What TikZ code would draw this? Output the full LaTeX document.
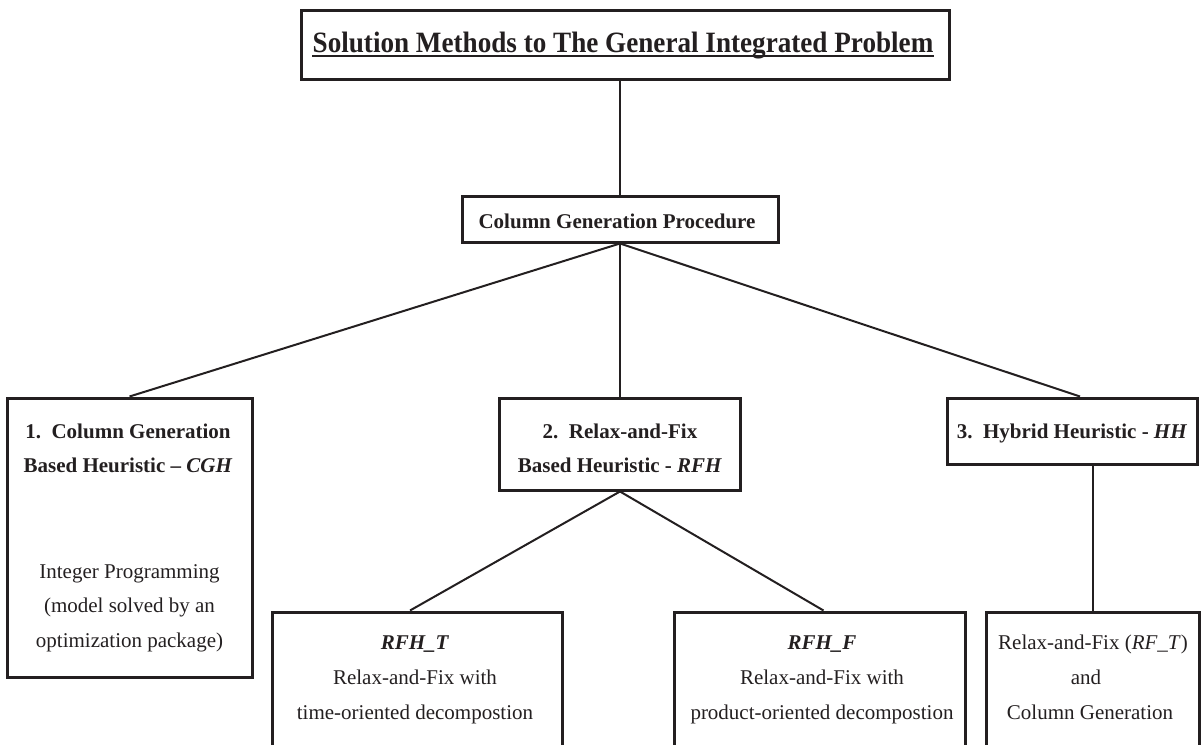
\documentclass[tikz,border=0pt]{standalone}
\usepackage{fontspec}
\setmainfont{Liberation Serif}
\newfontfamily\condfont[FakeStretch=0.92]{Liberation Serif}
\usetikzlibrary{calc}
\definecolor{ink}{HTML}{231F20}
\begin{document}
\begin{tikzpicture}[x=1pt,y=-1pt,
  box/.style={draw=ink,line width=3pt,inner sep=0pt,rectangle},
  txt/.style={anchor=base,inner sep=0pt,text=ink,font=\fontsize{21}{25}\selectfont},
  btxt/.style={txt,font=\fontsize{21}{25}\selectfont\bfseries},
  link/.style={draw=ink,line width=2pt}]
\useasboundingbox (0,0) rectangle (1201,744);
\clip (0,0) rectangle (1201,744);
% boxes
\node[box,minimum width=648pt,minimum height=69pt] (title) at (625,44.5) {};
\node[box,minimum width=316pt,minimum height=46pt] (cg) at (620,219) {};
\node[box,minimum width=245pt,minimum height=279pt] (b1) at (129.5,537.5) {};
\node[box,minimum width=241pt,minimum height=92pt] (b2) at (620,444) {};
\node[box,minimum width=250pt,minimum height=66pt] (b3) at (1072,431) {};
\node[box,minimum width=290pt,minimum height=188pt] (rt) at (417,706) {};
\node[box,minimum width=291pt,minimum height=188pt] (rf) at (819.5,706) {};
\node[box,minimum width=213pt,minimum height=188pt] (hc) at (1092.5,706) {};
% texts
\node[anchor=base,inner sep=0pt,text=ink,font=\fontsize{29.5}{34}\condfont\bfseries] (tt) at (623,52) {Solution Methods to The General Integrated Problem};
\draw[ink,line width=2.5pt] ($(tt.base west)+(0,4)$) coordinate (ul1) -- ($(tt.base east)+(0,4)$) coordinate (ul2);
\node[btxt] (cgt) at (617,228) {Column Generation Procedure};
\node[btxt] (b1a) at (128,438) {1.\ \ Column Generation};
\node[btxt] (b1b) at (128,472) {Based Heuristic -- \textit{CGH}};
\node[txt] (b1c) at (129.5,578) {Integer Programming};
\node[txt] (b1d) at (129.5,612) {(model solved by an};
\node[txt] (b1e) at (129.5,647) {optimization package)};
\node[btxt] (b2a) at (620,438) {2.\ \ Relax-and-Fix};
\node[btxt] (b2b) at (620,472) {Based Heuristic - \textit{RFH}};
\node[btxt] (b3a) at (1072,438) {3.\ \ Hybrid Heuristic - \textit{HH}};
\node[btxt] (rta) at (415,649) {\textit{RFH\_T}};
\node[txt] (rtb) at (415,684) {Relax-and-Fix with};
\node[txt] (rtc) at (415,719) {time-oriented decompostion};
\node[btxt] (rfa) at (822,649) {\textit{RFH\_F}};
\node[txt] (rfb) at (822,684) {Relax-and-Fix with};
\node[txt] (rfc) at (822,719) {product-oriented decompostion};
\node[txt] (hca) at (1093,649) {Relax-and-Fix (\textit{RF\_T})};
\node[txt] (hcb) at (1086,684) {and};
\node[txt] (hcc) at (1090,719) {Column Generation};
% connectors
\draw[link] (title.south -| cg.north) -- (cg.north);
\draw[link] (cg.south) -- (b1.north);
\draw[link] (cg.south) -- (b2.north);
\draw[link] (cg.south) -- ($(b3.north)+(8,0)$);
\draw[link] (b2.south) -- ($(rt.north)+(-7,0)$);
\draw[link] (b2.south) -- ($(rf.north)+(4,0)$);
\draw[link] (b3.south -| hc.north) -- (hc.north);
\end{tikzpicture}
\end{document}
